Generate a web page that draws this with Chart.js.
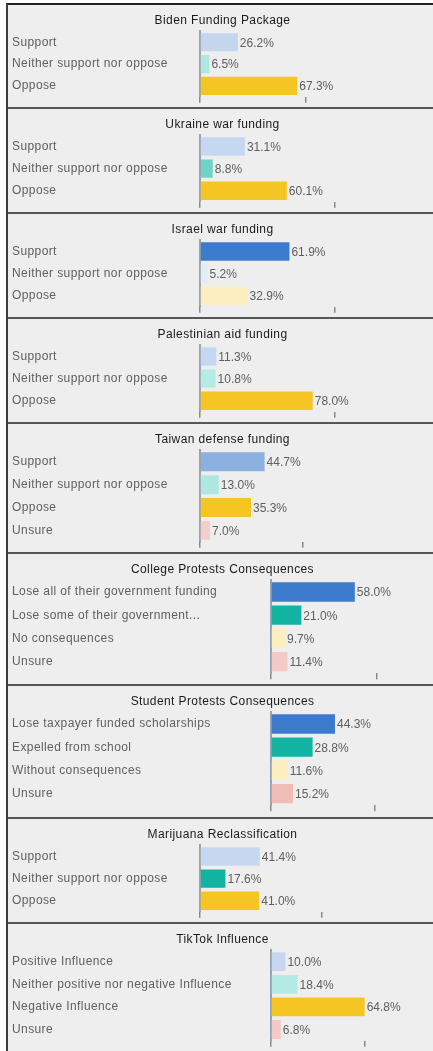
<!DOCTYPE html>
<html>
<head>
<meta charset="utf-8">
<script src="https://cdn.jsdelivr.net/npm/chart.js@4.4.1/dist/chart.umd.min.js"></script>
<style>
  html, body { margin: 0; padding: 0; background: #fff; }
  #wrap { position: absolute; left: 6px; top: 3px; width: 427px; border-left: 2px solid #3c3c3c; }
  .panel { position: relative; border-top: 2px solid #565656; background: #eeeeee; }
  .panel:first-child { border-top-color: #222; }
  canvas { display: block; }
</style>
</head>
<body>
<div id="wrap"></div>
<script>
// survey results, one entry per panel
const titles = [
  'Biden Funding Package',
  'Ukraine war funding',
  'Israel war funding',
  'Palestinian aid funding',
  'Taiwan defense funding',
  'College Protests Consequences',
  'Student Protests Consequences',
  'Marijuana Reclassification',
  'TikTok Influence'
];

const categories = [
  ['Support', 'Neither support nor oppose', 'Oppose'],
  ['Support', 'Neither support nor oppose', 'Oppose'],
  ['Support', 'Neither support nor oppose', 'Oppose'],
  ['Support', 'Neither support nor oppose', 'Oppose'],
  ['Support', 'Neither support nor oppose', 'Oppose', 'Unsure'],
  ['Lose all of their government funding', 'Lose some of their government...', 'No consequences', 'Unsure'],
  ['Lose taxpayer funded scholarships', 'Expelled from school', 'Without consequences', 'Unsure'],
  ['Support', 'Neither support nor oppose', 'Oppose'],
  ['Positive Influence', 'Neither positive nor negative Influence', 'Negative Influence', 'Unsure']
];

const values = [
  [26.2, 6.5, 67.3],
  [31.1, 8.8, 60.1],
  [61.9, 5.2, 32.9],
  [11.3, 10.8, 78.0],
  [44.7, 13.0, 35.3, 7.0],
  [58.0, 21.0, 9.7, 11.4],
  [44.3, 28.8, 11.6, 15.2],
  [41.4, 17.6, 41.0],
  [10.0, 18.4, 64.8, 6.8]
];

const barColors = [
  ['#c3d6ee', '#aee8e0', '#f5c523'],
  ['#c6d8f0', '#6fd3c7', '#f5c523'],
  ['#3d7bcc', '#e2ecf4', '#fdeebf'],
  ['#c6d8f0', '#b4ebe4', '#f5c523'],
  ['#8cb0e0', '#aee8e0', '#f5c523', '#f3cfcc'],
  ['#3d7bcc', '#12b3a1', '#fdeebf', '#f3cac6'],
  ['#3d7bcc', '#12b3a1', '#fdeebf', '#efbdb6'],
  ['#c6d8f0', '#12b3a1', '#f5c523'],
  ['#c6d8f0', '#b4ebe4', '#f5c523', '#f3cac6']
];

// the lone x tick shown under each panel (percent)
const xTicks = [73, 93, 93, 93, 71, 73, 72, 84, 65];

// layout
const panelHeights = [104, 105, 105, 105, 130, 132, 133, 105, 129];
const labelWidths = [192, 192, 192, 192, 192, 263, 263, 192, 263];
const CANVAS_W = 425;
const PX_PER_PCT = 1.445;
const STEP = 23.2;
const FONT = "'Liberation Sans', Arial, sans-serif";

const spacing = {
  id: 'spacing',
  beforeDraw(chart) { chart.ctx.letterSpacing = '0.4px'; }
};

const valueLabels = {
  id: 'valueLabels',
  afterDatasetsDraw(chart) {
    const ctx = chart.ctx;
    const meta = chart.getDatasetMeta(0);
    const data = chart.data.datasets[0].data;
    ctx.save();
    ctx.letterSpacing = '0px';
    ctx.font = '12px ' + FONT;
    ctx.fillStyle = '#5e5e5e';
    ctx.textAlign = 'left';
    ctx.textBaseline = 'middle';
    meta.data.forEach((bar, i) => {
      ctx.fillText(data[i].toFixed(1) + '%', bar.x + 2, bar.y + 1);
    });
    ctx.restore();
  }
};

const wrap = document.getElementById('wrap');

titles.forEach((title, p) => {
  const panel = document.createElement('div');
  panel.className = 'panel';
  const h = panelHeights[p] - 2;
  panel.style.height = h + 'px';
  const canvas = document.createElement('canvas');
  canvas.width = CANVAS_W;
  canvas.height = h;
  panel.appendChild(canvas);
  wrap.appendChild(panel);

  const n = categories[p].length;
  const areaTop = 8 + 14.4 + 4;
  const padBottom = Math.max(0, h - 6 - areaTop - n * STEP);
  const labelW = labelWidths[p];

  new Chart(canvas.getContext('2d'), {
    type: 'bar',
    data: {
      labels: categories[p],
      datasets: [{
        data: values[p],
        backgroundColor: barColors[p],
        borderWidth: 0,
        barPercentage: 1,
        categoryPercentage: 0.83
      }]
    },
    options: {
      indexAxis: 'y',
      responsive: false,
      animation: false,
      layout: { padding: { left: 4, right: 0, top: 0, bottom: padBottom } },
      plugins: {
        legend: { display: false },
        tooltip: { enabled: false },
        title: {
          display: true,
          text: title,
          color: '#1a1a1a',
          font: { size: 12, family: FONT, weight: 'normal' },
          padding: { top: 8, bottom: 4 }
        }
      },
      scales: {
        y: {
          grid: { display: false },
          border: { display: true, color: '#9aa2ab', width: 2 },
          ticks: {
            crossAlign: 'far',
            autoSkip: false,
            color: '#606060',
            font: { size: 12, family: FONT }
          },
          afterFit(scale) { scale.width = labelW - 4; }
        },
        x: {
          min: 0,
          max: (CANVAS_W - labelW) / PX_PER_PCT,
          border: { display: false },
          grid: {
            drawOnChartArea: false,
            drawTicks: true,
            tickLength: 6,
            color: '#8a8a8a',
            lineWidth: 1.5
          },
          ticks: { display: false },
          afterBuildTicks(axis) { axis.ticks = [{ value: 0 }, { value: xTicks[p] }]; }
        }
      }
    },
    plugins: [spacing, valueLabels]
  });
});
</script>
</body>
</html>
